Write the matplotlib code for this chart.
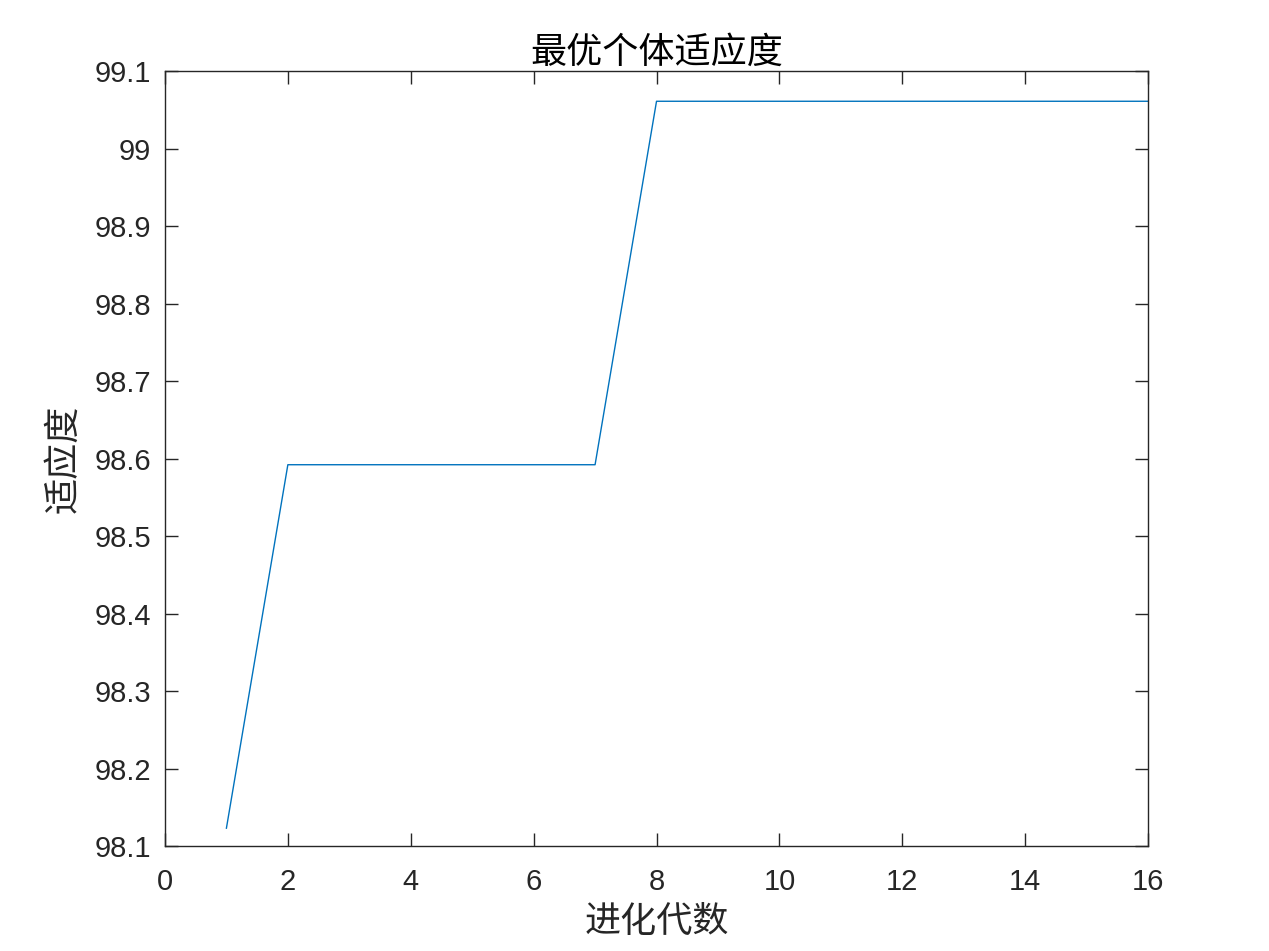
import matplotlib
matplotlib.use("Agg")
import matplotlib.pyplot as plt

generations = [1, 2, 3, 4, 5, 6, 7, 8, 9, 10, 11, 12, 13, 14, 15, 16]
fitness = [98.123, 98.592, 98.592, 98.592, 98.592, 98.592, 98.592,
           99.061, 99.061, 99.061, 99.061, 99.061, 99.061, 99.061, 99.061, 99.061]
xticks = [0, 2, 4, 6, 8, 10, 12, 14, 16]
yticks = [98.1, 98.2, 98.3, 98.4, 98.5, 98.6, 98.7, 98.8, 98.9, 99.0, 99.1]
ytick_labels = ["98.1", "98.2", "98.3", "98.4", "98.5", "98.6", "98.7", "98.8", "98.9", "99", "99.1"]

cjk = ["Noto Sans CJK SC", "DejaVu Sans"]
num_font = ["Liberation Sans", "DejaVu Sans"]
dark = "#262626"

fig = plt.figure(figsize=(12.69, 9.51), dpi=100)
ax = fig.add_axes([0.13, 0.1104, 0.7747, 0.8149])
ax.plot(generations, fitness, color="#0072BD", linewidth=1.0)
ax.set_xlim(0, 16)
ax.set_ylim(98.1, 99.1)
ax.set_xticks(xticks)
ax.set_yticks(yticks)
ax.set_yticklabels(ytick_labels)
ax.tick_params(direction="in", length=9.5, width=1, colors=dark, labelsize=21,
               top=True, right=True)
ax.tick_params(axis="x", pad=15.5)
ax.tick_params(axis="y", pad=10)
for lbl in ax.get_xticklabels() + ax.get_yticklabels():
    lbl.set_family(num_font)
for s in ax.spines.values():
    s.set_color(dark)
    s.set_linewidth(1)
ax.set_title("最优个体适应度", family=cjk, fontsize=26, color="black", pad=6)
ax.set_xlabel("进化代数", family=cjk, fontsize=26, color=dark)
ax.set_ylabel("适应度", family=cjk, fontsize=26, color=dark)
ax.xaxis.set_label_coords(0.5, (846 - 922) / 775)
ax.xaxis.label.set_va("center")
ax.yaxis.set_label_coords((63 - 165) / 983, 0.5)
ax.yaxis.label.set_va("center")
fig.savefig("out.png", dpi=100)
